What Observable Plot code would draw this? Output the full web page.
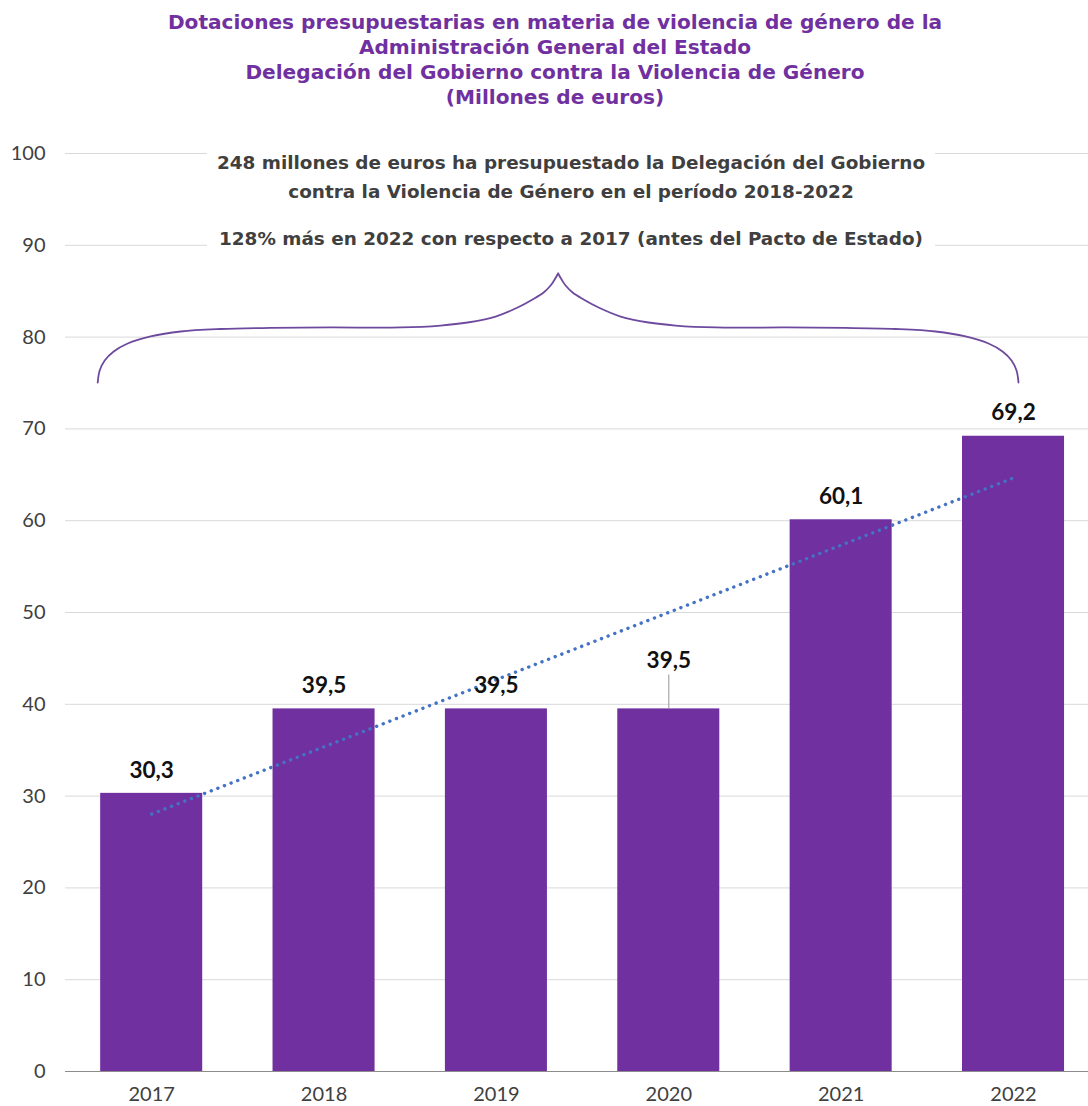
<!DOCTYPE html>
<html>
<head>
<meta charset="utf-8">
<script src="https://cdn.jsdelivr.net/npm/d3@7"></script>
<script src="https://cdn.jsdelivr.net/npm/@observablehq/plot@0.6"></script>
<style>
  html, body { margin: 0; padding: 0; background: #ffffff; }
  #title {
    width: 1088px; height: 120px; box-sizing: border-box;
    padding-top: 10px; padding-left: 22px;
    font-family: "DejaVu Sans", Lato, sans-serif; font-weight: 700; font-size: 20.1px;
    line-height: 25px; color: #7030A0; text-align: center;
  }
  #chart svg { display: block; }
</style>
</head>
<body>
<div id="title"></div>
<div id="chart"></div>
<script>
// ---- data ----
const years = [2017, 2018, 2019, 2020, 2021, 2022];
const values = [30.3, 39.5, 39.5, 39.5, 60.1, 69.2];
const valueLabels = ["30,3", "39,5", "39,5", "39,5", "60,1", "69,2"];
const yTicks = [0, 10, 20, 30, 40, 50, 60, 70, 80, 90, 100];
const titleLines = [
  "Dotaciones presupuestarias en materia de violencia de género de la",
  "Administración General del Estado",
  "Delegación del Gobierno contra la Violencia de Género",
  "(Millones de euros)"
];
const noteLines = [
  "248 millones de euros ha presupuestado la Delegación del Gobierno",
  "contra la Violencia de Género en el período 2018-2022",
  "128% más en 2022 con respecto a 2017 (antes del Pacto de Estado)"
];
// brace drawn in data units (left half and right half meeting at the tip)
const braceLeftX = [2016.6868, 2016.6984, 2016.7274, 2016.7796, 2016.8608, 2016.9942, 2017.1682, 2017.4002, 2017.6903, 2018.0383,
                    2018.4443, 2018.6763, 2018.8329, 2018.9954, 2019.1230, 2019.2100, 2019.2738, 2019.3144, 2019.3376, 2019.3580];
const braceRightX = [2022.0290, 2022.0174, 2021.9884, 2021.9362, 2021.8550, 2021.7216, 2021.5476, 2021.3156, 2021.0255, 2020.6775,
                     2020.2715, 2020.0395, 2019.8829, 2019.7204, 2019.5928, 2019.5058, 2019.4420, 2019.4014, 2019.3782, 2019.3580];
const braceY = [75.05, 76.36, 77.45, 78.43, 79.30, 80.07, 80.61, 80.88, 81.01, 81.05,
                81.05, 81.26, 81.59, 82.24, 83.22, 84.10, 84.86, 85.62, 86.27, 86.93];

// ---- tables ----
const data = years.map((year, i) => ({year, value: values[i], label: valueLabels[i]}));
const brace = [
  ...braceLeftX.map((x, i) => ({x, y: braceY[i], side: "left"})),
  ...braceRightX.map((x, i) => ({x, y: braceY[i], side: "right"}))
];

document.getElementById("title").innerHTML = titleLines.join("<br>");

const FONT = "Lato, 'Noto Sans', sans-serif";
const NOTE_FONT = "'DejaVu Sans', Lato, sans-serif";
const halfBar = 0.296;
const noteDy = [10, 39, 86];

const plot = Plot.plot({
  width: 1088,
  height: 986,
  marginTop: 33,
  marginBottom: 35,
  marginLeft: 65,
  marginRight: 0,
  style: {fontFamily: FONT, fontSize: "20px", color: "#404040", background: "#ffffff", overflow: "visible"},
  x: {type: "linear", domain: [years[0] - 0.5, years[years.length - 1] + 0.435], ticks: years,
      tickFormat: d => String(d), tickSize: 0, tickPadding: 15, label: null, line: false},
  y: {domain: [0, 100], ticks: yTicks, tickSize: 0, tickPadding: 20, label: null, line: false},
  marks: [
    Plot.ruleY(yTicks.filter(t => t > 0), {stroke: "#d9d9d9", strokeWidth: 1}),
    Plot.rectY(data, {x1: d => d.year - halfBar, x2: d => d.year + halfBar, y: "value", fill: "#7030A0"}),
    Plot.ruleY([0], {stroke: "#8c8c8c", strokeWidth: 1.2}),
    Plot.ruleX(data.filter(d => d.year === 2020), {x: "year", y1: "value", y2: d => d.value + 3.7, stroke: "#a6a6a6", strokeWidth: 1.2}),
    Plot.linearRegressionY(data, {x: "year", y: "value", ci: 0, stroke: "#4472C4", strokeWidth: 3.4,
      strokeDasharray: "0.1 7", strokeLinecap: "round"}),
    Plot.line(brace, {x: "x", y: "y", z: "side", curve: "catmull-rom", stroke: "#6E4A9E", strokeWidth: 1.8}),
    Plot.text(data.filter(d => d.year !== 2020), {x: "year", y: "value", text: "label", dy: -23,
      lineAnchor: "middle", fontSize: 22.5, fontWeight: 700, fill: "#111111"}),
    Plot.text(data.filter(d => d.year === 2020), {x: "year", y: "value", text: "label", dy: -48,
      lineAnchor: "middle", fontSize: 22.5, fontWeight: 700, fill: "#111111"}),
    ...noteLines.map((line, i) => Plot.text([line], {text: d => d, frameAnchor: "top", dx: -6, dy: noteDy[i],
      lineAnchor: "middle", fontFamily: NOTE_FONT, fontSize: 18.4, fontWeight: 700, fill: "#3f3f3f"}))
  ]
});

document.getElementById("chart").appendChild(plot);

// white box behind the annotation, like the original text box
const noteTexts = [...plot.querySelectorAll("text")].filter(t => noteLines.includes(t.textContent));
if (noteTexts.length) {
  const sb = plot.getBoundingClientRect();
  let x0 = Infinity, y0 = Infinity, x1 = -Infinity, y1 = -Infinity;
  for (const t of noteTexts) {
    const b = t.getBoundingClientRect();
    x0 = Math.min(x0, b.left - sb.left); y0 = Math.min(y0, b.top - sb.top);
    x1 = Math.max(x1, b.right - sb.left); y1 = Math.max(y1, b.bottom - sb.top);
  }
  const pad = 10;
  const rect = document.createElementNS("http://www.w3.org/2000/svg", "rect");
  rect.setAttribute("x", x0 - pad);
  rect.setAttribute("y", y0 - pad);
  rect.setAttribute("width", x1 - x0 + 2 * pad);
  rect.setAttribute("height", y1 - y0 + 2 * pad);
  rect.setAttribute("fill", "#ffffff");
  const firstGroup = noteTexts[0].closest("g");
  firstGroup.parentNode.insertBefore(rect, firstGroup);
}
</script>
</body>
</html>
